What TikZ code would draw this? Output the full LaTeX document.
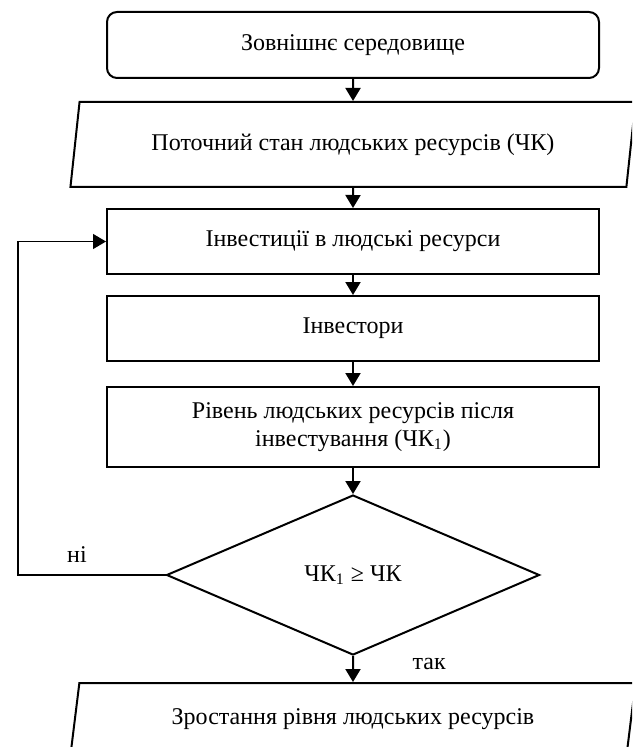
\documentclass[tikz,border=0pt]{standalone}
\usepackage{fontspec}
\setmainfont{Liberation Serif}
\usetikzlibrary{arrows.meta,positioning,shapes.geometric}

\begin{document}
\begin{tikzpicture}[
  x=0.5pt, y=0.5pt,
  font=\fontsize{12}{13.8}\selectfont,
  box/.style={draw, line width=1pt, align=center, minimum width=246pt, minimum height=32.5pt, inner sep=2pt},
  io/.style={draw, line width=1pt, trapezium, trapezium left angle=75.5, trapezium right angle=104.5, trapezium stretches body, minimum width=282.5pt, minimum height=42.5pt, align=center},
  cond/.style={draw, line width=1pt, diamond, minimum width=186.5pt, minimum height=80pt, inner sep=0pt},
  arr/.style={-{Triangle[length=6.5pt,width=7.5pt]}, line width=1pt},
  back/.style={-{Triangle[length=6.5pt,width=7.5pt]}, line width=0.65pt}
]
\useasboundingbox (0,0) rectangle (632,747);
\clip (0,0) rectangle (632,747);
\node[box, rounded corners=5pt, minimum height=33pt] (env) at (353,702) {Зовнішнє середовище};
\node[io, below=11pt of env] (cur) {Поточний стан людських ресурсів (ЧК)};
\node[box, below=10pt of cur] (inv) {Інвестиції в людські ресурси};
\node[box, below=10pt of inv] (invs) {Інвестори};
\node[box, below=12pt of invs, minimum height=40pt] (lvl) {Рівень людських ресурсів після\\інвестування (ЧК\textsubscript{1})};
\node[cond, below=13pt of lvl] (chk) {ЧК\textsubscript{1} ≥ ЧК};
\node[io, below=13pt of chk, minimum height=36pt] (grow) {Зростання рівня людських ресурсів};
\coordinate (loop) at (18,0);
\draw[arr] (env) -- (cur);
\draw[arr] (cur) -- (inv);
\draw[arr] (inv) -- (invs);
\draw[arr] (invs) -- (lvl);
\draw[arr] (lvl) -- (chk);
\draw[arr] (chk) -- node[pos=0.3, right=26pt] {так} (grow);
\draw[back] (chk.west) -- node[pos=0.6, above=2.5pt] {ні} (chk.west -| loop) |- (inv.west);
\end{tikzpicture}
\end{document}
